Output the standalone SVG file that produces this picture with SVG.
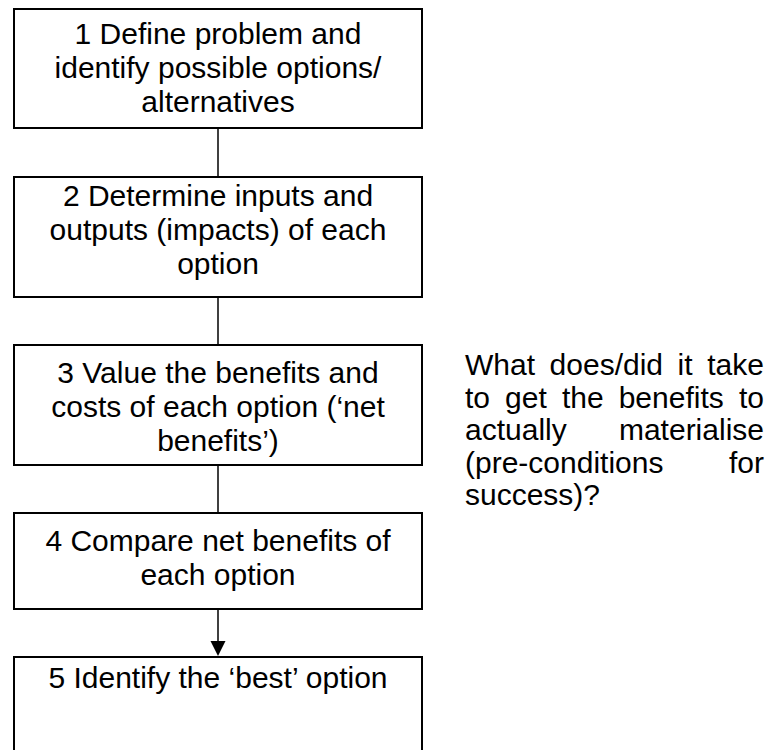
<svg xmlns="http://www.w3.org/2000/svg" width="767" height="750" viewBox="0 0 767 750">
<defs>
<style>
.box{fill:#fff;stroke:#000;stroke-width:2}
.t{font-family:"Liberation Sans",Arial,sans-serif;font-size:30px;fill:#000}
.c{text-anchor:middle}
.e{text-anchor:end}
.ln{stroke:#000;stroke-width:1.5;fill:none}
</style>
</defs>
<rect width="767" height="750" fill="#fff"/>
<g id="connectors">
<line class="ln" x1="218" y1="128" x2="218" y2="177"/>
<line class="ln" x1="218" y1="297" x2="218" y2="345"/>
<line class="ln" x1="218" y1="465" x2="218" y2="513"/>
<line class="ln" x1="218" y1="609" x2="218" y2="641"/>
<path d="M210.5,641 L225.5,641 L218,656 Z" fill="#000"/>
</g>
<g id="n1">
<rect class="box" x="14" y="9" width="408" height="119"/>
<text class="t c" x="218" y="44">1 Define problem and</text>
<text class="t c" x="218" y="78">identify possible options/</text>
<text class="t c" x="218" y="112">alternatives</text>
</g>
<g id="n2">
<rect class="box" x="14" y="177" width="408" height="120"/>
<text class="t c" x="218" y="206">2 Determine inputs and</text>
<text class="t c" x="218" y="240">outputs (impacts) of each</text>
<text class="t c" x="218" y="274">option</text>
</g>
<g id="n3">
<rect class="box" x="14" y="345" width="408" height="120"/>
<text class="t c" x="218" y="383">3 Value the benefits and</text>
<text class="t c" x="218" y="417">costs of each option (‘net</text>
<text class="t c" x="218" y="451">benefits’)</text>
</g>
<g id="n4">
<rect class="box" x="14" y="513" width="408" height="96"/>
<text class="t c" x="218" y="551">4 Compare net benefits of</text>
<text class="t c" x="218" y="585">each option</text>
</g>
<g id="n5">
<rect class="box" x="14" y="657" width="408" height="110"/>
<text class="t c" x="218" y="688">5 Identify the ‘best’ option</text>
</g>
<g id="note">
<text class="t" y="375"><tspan x="465">What</tspan><tspan x="549.6">does/did</tspan><tspan x="677.6">it</tspan></text>
<text class="t e" x="764" y="375">take</text>
<text class="t" y="407.5"><tspan x="465">to</tspan><tspan x="505.1">get</tspan><tspan x="561.9">the</tspan><tspan x="618.7">benefits</tspan></text>
<text class="t e" x="764" y="407.5">to</text>
<text class="t" x="465" y="440">actually</text>
<text class="t e" x="764" y="440">materialise</text>
<text class="t" x="465" y="472.5">(pre-conditions</text>
<text class="t e" x="764" y="472.5">for</text>
<text class="t" x="465" y="505">success)?</text>
</g>
</svg>
